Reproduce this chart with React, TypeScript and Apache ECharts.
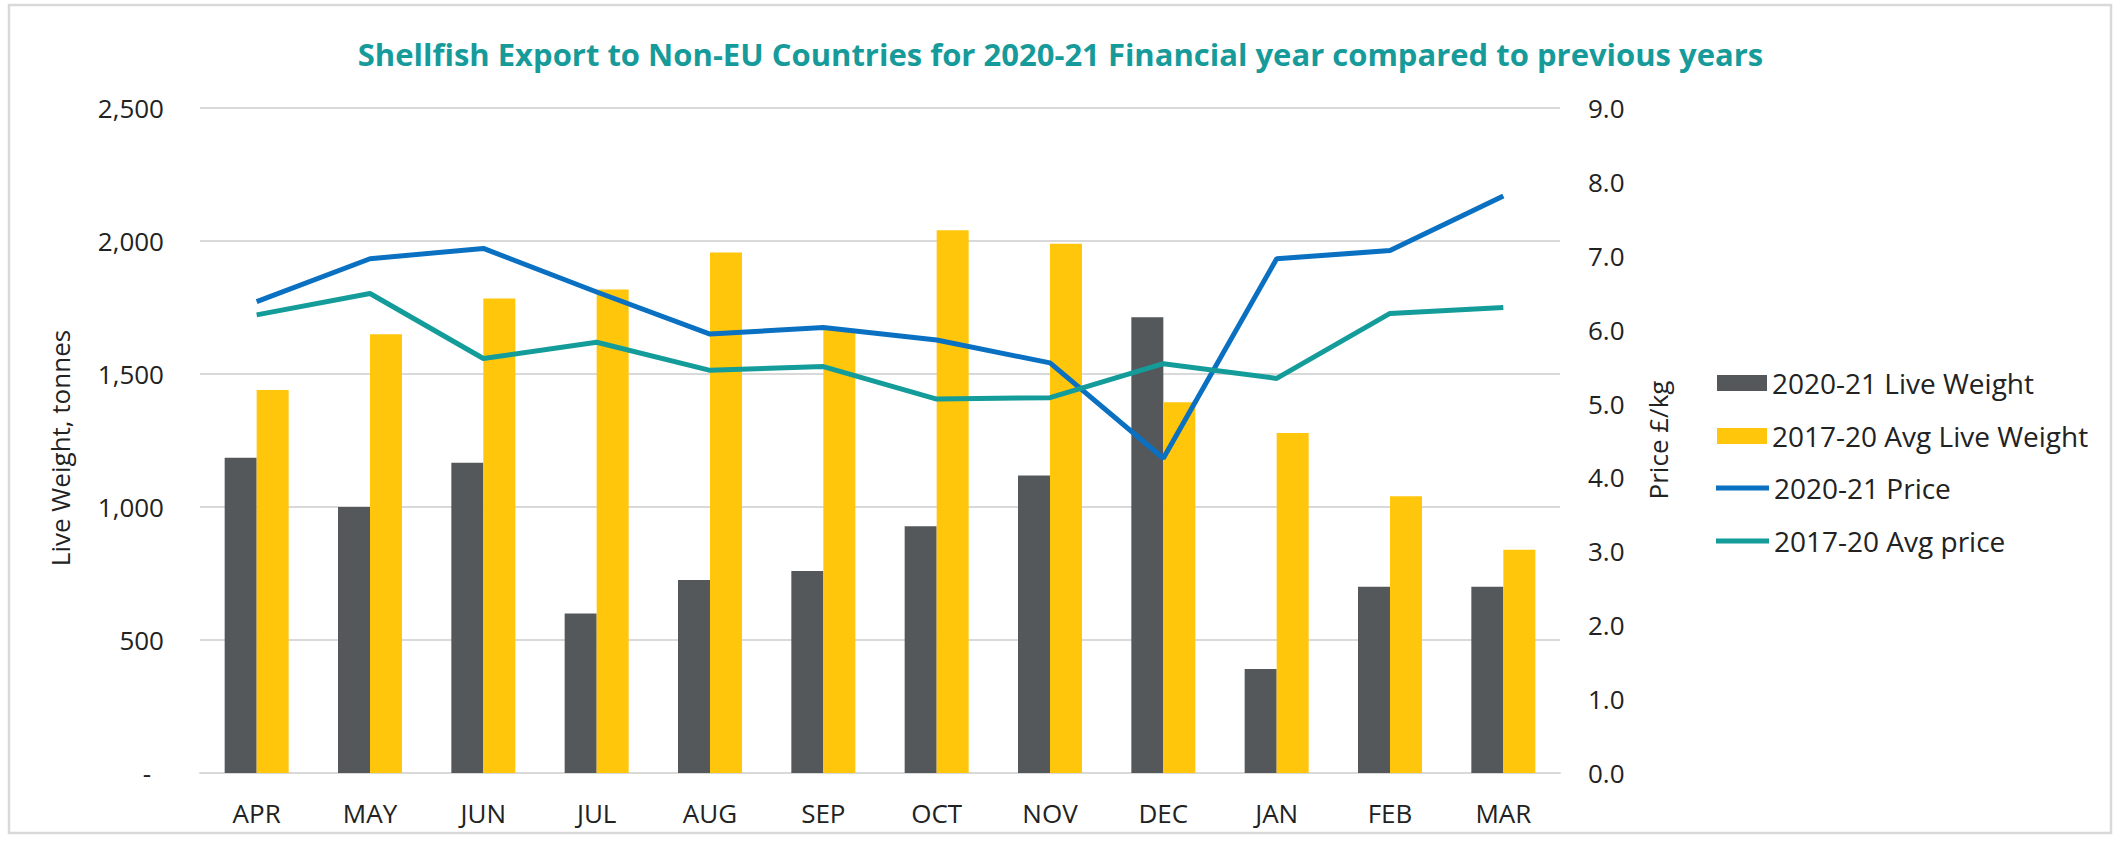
import React, { useEffect, useRef } from "react";
import * as echarts from "echarts";

const months = ["APR", "MAY", "JUN", "JUL", "AUG", "SEP", "OCT", "NOV", "DEC", "JAN", "FEB", "MAR"];
const liveWeight2021 = [1185, 1000, 1166, 600, 726, 759, 928, 1118, 1713, 391, 700, 700];
const liveWeightAvg1720 = [1440, 1649, 1784, 1818, 1957, 1665, 2040, 1990, 1394, 1278, 1040, 839];
const price2021 = [6.38, 6.96, 7.1, 6.51, 5.94, 6.03, 5.86, 5.55, 4.26, 6.96, 7.07, 7.81];
const priceAvg1720 = [6.2, 6.49, 5.61, 5.83, 5.45, 5.5, 5.06, 5.08, 5.54, 5.34, 6.22, 6.3];

const titleText = "Shellfish Export to Non-EU Countries for 2020-21 Financial year compared to previous years";
const leftAxisName = "Live Weight, tonnes";
const rightAxisName = "Price £/kg";
const seriesNames = ["2020-21 Live Weight", "2017-20 Avg Live Weight", "2020-21 Price", "2017-20 Avg price"];

const FONT = "'Open Sans', 'Noto Sans', sans-serif";
const TXT = "#222222";

function fmtThousands(v: number): string {
  return String(v).replace(/\B(?=(\d{3})+(?!\d))/g, ",");
}

export default function App() {
  const ref = useRef<HTMLDivElement>(null);
  useEffect(() => {
    if (!ref.current) return;
    const chart = echarts.init(ref.current, null, { renderer: "svg" });
    const legendText = { fontFamily: FONT, fontSize: 28, color: TXT };
    chart.setOption({
      animation: false,
      backgroundColor: "#ffffff",
      title: {
        text: titleText,
        left: "center",
        top: 33,
        textStyle: { fontFamily: FONT, fontWeight: "bold", fontSize: 31, color: "#169B9A" },
      },
      graphic: [
        {
          type: "rect",
          shape: { x: 9, y: 5, width: 2102, height: 828 },
          style: { fill: "none", stroke: "#d9d9d9", lineWidth: 2.5 },
          silent: true,
        },
        {
          type: "text",
          x: 60,
          y: 448,
          rotation: Math.PI / 2,
          style: { text: leftAxisName, font: `26px ${FONT}`, fill: TXT, align: "center", verticalAlign: "middle" },
        },
        {
          type: "text",
          x: 1658,
          y: 440,
          rotation: Math.PI / 2,
          style: { text: rightAxisName, font: `26px ${FONT}`, fill: TXT, align: "center", verticalAlign: "middle" },
        },
      ],
      legend: [
        {
          orient: "vertical",
          left: 1717,
          top: 369,
          padding: 0,
          icon: "rect",
          itemWidth: 50,
          itemHeight: 16,
          itemGap: 25,
          itemStyle: { borderWidth: 0 },
          textStyle: legendText,
          data: [seriesNames[0], seriesNames[1]],
        },
        {
          orient: "vertical",
          left: 1716,
          top: 474,
          padding: 0,
          icon: "rect",
          itemWidth: 53,
          itemHeight: 5,
          itemGap: 25,
          itemStyle: { borderWidth: 0 },
          textStyle: legendText,
          data: [seriesNames[2], seriesNames[3]],
        },
      ],
      grid: { left: 200, right: 561, top: 108, bottom: 71, containLabel: false },
      xAxis: {
        type: "category",
        data: months,
        axisLine: { show: true, lineStyle: { color: "#d9d9d9", width: 2 } },
        axisTick: { show: false },
        axisLabel: { margin: 27, fontFamily: FONT, fontSize: 26, color: TXT },
      },
      yAxis: [
        {
          type: "value",
          min: 0,
          max: 2500,
          interval: 500,
          axisLine: { show: false },
          axisTick: { show: false },
          splitLine: { show: true, lineStyle: { color: "#d9d9d9", width: 2 } },
          axisLabel: {
            margin: 36,
            fontFamily: FONT,
            fontSize: 26,
            color: TXT,
            formatter: (v: number) => (v === 0 ? "{z|-}" : fmtThousands(v)),
            rich: { z: { fontFamily: FONT, fontSize: 26, color: TXT, padding: [0, 13, 0, 0] } },
          },
        },
        {
          type: "value",
          min: 0,
          max: 9,
          interval: 1,
          position: "right",
          axisLine: { show: false },
          axisTick: { show: false },
          splitLine: { show: false },
          axisLabel: {
            margin: 28,
            fontFamily: FONT,
            fontSize: 26,
            color: TXT,
            formatter: (v: number) => v.toFixed(1),
          },
        },
      ],
      series: [
        {
          name: seriesNames[0],
          type: "bar",
          data: liveWeight2021,
          barWidth: 32,
          barGap: "0%",
          itemStyle: { color: "#54585A" },
        },
        {
          name: seriesNames[1],
          type: "bar",
          data: liveWeightAvg1720,
          barWidth: 32,
          barGap: "0%",
          itemStyle: { color: "#FFC60B" },
        },
        {
          name: seriesNames[2],
          type: "line",
          yAxisIndex: 1,
          data: price2021,
          symbol: "none",
          lineStyle: { color: "#0A70C2", width: 5 },
          itemStyle: { color: "#0A70C2" },
        },
        {
          name: seriesNames[3],
          type: "line",
          yAxisIndex: 1,
          data: priceAvg1720,
          symbol: "none",
          lineStyle: { color: "#139C9A", width: 5 },
          itemStyle: { color: "#139C9A" },
        },
      ],
    });
    return () => chart.dispose();
  }, []);
  return (
    <div
      ref={ref}
      style={{ position: "fixed", left: 0, top: 0, width: 2121, height: 844 }}
    />
  );
}
